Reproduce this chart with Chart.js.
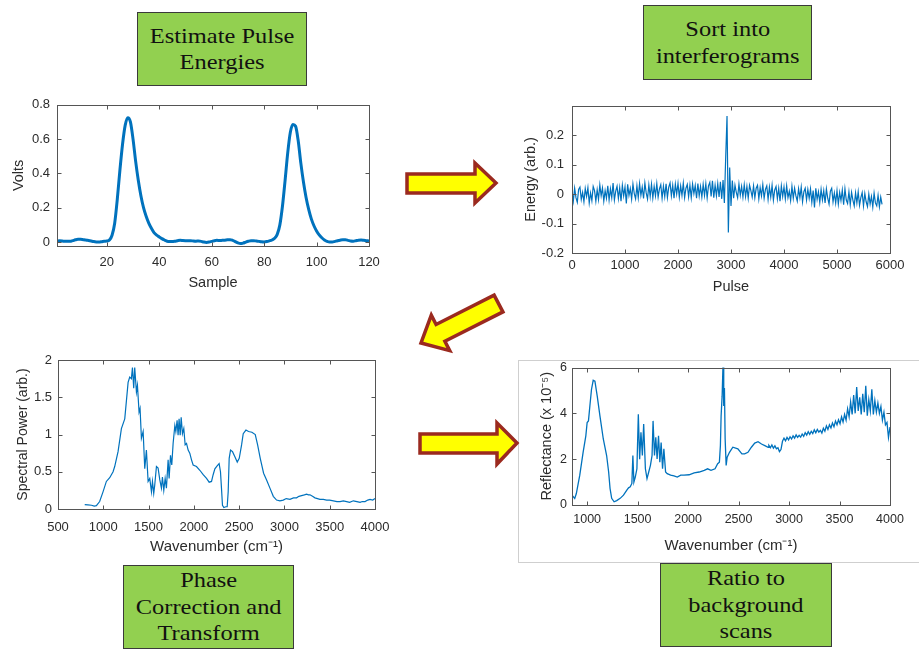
<!DOCTYPE html>
<html>
<head>
<meta charset="utf-8">
<script src="https://cdn.jsdelivr.net/npm/chart.js@4.4.1/dist/chart.umd.min.js"></script>
<style>
  html, body { margin: 0; padding: 0; background: #fff; }
  #page { position: relative; width: 919px; height: 649px; overflow: hidden; }
  canvas { position: absolute; }
  #inset { position: absolute; left: 518px; top: 360px; width: 402px; height: 203px; box-sizing: border-box; border: 1px solid #cfcfcf; }
  .step { position: absolute; box-sizing: border-box; background: #92d050; border: 1.5px solid #3a3a3a;
          display: flex; align-items: center; justify-content: center; }
  .step span { font-family: "Liberation Serif", serif; font-size: 22px; line-height: 26.5px; color: #111;
               text-align: center; white-space: nowrap; transform: scaleX(1.11); }
  #arrows { position: absolute; left: 0; top: 0; }
</style>
</head>
<body>
<div id="page">
  <div id="inset"></div>

  <canvas id="pulseChart" width="390" height="210" style="left:0;top:90px"></canvas>
  <canvas id="interferogramChart" width="409" height="210" style="left:510px;top:90px"></canvas>
  <canvas id="spectrumChart" width="410" height="215" style="left:0;top:345px"></canvas>
  <canvas id="reflectanceChart" width="409" height="210" style="left:510px;top:355px"></canvas>

  <div class="step" style="left:137px;top:12px;width:170px;height:74px"><span>Estimate Pulse<br>Energies</span></div>
  <div class="step" style="left:643px;top:5px;width:169px;height:75px"><span>Sort into<br>interferograms</span></div>
  <div class="step" style="left:123px;top:565px;width:171px;height:84px"><span>Phase<br>Correction and<br>Transform</span></div>
  <div class="step" style="left:660px;top:563px;width:172px;height:84px"><span>Ratio to<br>background<br>scans</span></div>

  <svg id="arrows" width="919" height="649">
    <g fill="#ffff00" stroke="#9b2a1f" stroke-width="3.5" stroke-linejoin="miter">
      <polygon points="407,174 475,174 475,163 496,183 475,203 475,193 407,193"/>
      <polygon points="502.9,311.9 494.1,295.1 436.1,324.5 431.3,315.2 421,343 449.7,350.6 444.9,341.3"/>
      <polygon points="420,434 497,434 497,423 517,443 497,464 497,453 420,453"/>
    </g>
  </svg>
</div>

<script>
// ---- data ----

// Panel 1: detector voltage per sample (samples 1..120)
const pulseVolts = [
  0.005, 0.007, 0.006, 0.004, 0.005, 0.004, 0.008, 0.013, 0.016, 0.016,
  0.014, 0.012, 0.009, 0.006, 0.003, 0.001, 0.000, 0.002, 0.005, 0.006,
  0.012, 0.040, 0.110, 0.250, 0.420, 0.570, 0.680, 0.725, 0.700, 0.600,
  0.470, 0.360, 0.270, 0.200, 0.150, 0.110, 0.080, 0.055, 0.040, 0.030,
  0.020, 0.012, 0.005, 0.003, 0.003, 0.005, 0.008, 0.010, 0.009, 0.008,
  0.007, 0.008, 0.006, 0.005, 0.006, 0.004, 0.000, -0.002, 0.000, 0.004,
  0.008, 0.010, 0.009, 0.010, 0.011, 0.013, 0.014, 0.010, 0.003, -0.005,
  -0.009, -0.006, 0.000, 0.005, 0.008, 0.008, 0.006, 0.004, 0.002, 0.001,
  0.003, 0.007, 0.012, 0.022, 0.045, 0.100, 0.210, 0.360, 0.520, 0.640,
  0.685, 0.675, 0.590, 0.460, 0.350, 0.260, 0.190, 0.135, 0.095, 0.065,
  0.042, 0.025, 0.012, 0.004, 0.000, 0.000, 0.004, 0.008, 0.011, 0.013,
  0.013, 0.010, 0.006, 0.005, 0.008, 0.011, 0.012, 0.010, 0.008, 0.006
];

// Panel 2: interferogram energy, one value every 25 pulses from pulse 0
const pulseSpacing = 25;
const energyValues = [
  0.01, -0.024, 0.02, -0.012, -0.028, 0.016, 0.024, -0.018, 0.006, -0.026,
  0.019, -0.008, 0.022, -0.03, 0.004, -0.022, 0.026, 0.012, -0.024, 0.015,
  -0.018, 0.031, -0.006, 0.021, -0.024, 0.012, -0.014, 0.028, -0.02, 0.018,
  -0.012, 0.038, -0.02, 0.01, 0.027, -0.015, 0.022, -0.024, 0.03, -0.006,
  0.024, -0.032, 0.033, -0.004, 0.019, -0.017, 0.034, 0.002, -0.016, 0.028,
  -0.012, 0.036, -0.004, 0.024, -0.015, 0.038, 0.004, -0.017, 0.031, -0.008,
  0.034, -0.013, 0.026, -0.006, 0.036, -0.01, 0.018, 0.032, -0.014, 0.027,
  -0.008, 0.035, -0.012, 0.024, 0.038, -0.006, 0.03, -0.014, 0.034, 0.0,
  0.036, -0.01, 0.028, -0.004, 0.037, -0.012, 0.02, 0.033, -0.009, 0.03,
  -0.012, 0.034, 0.002, 0.029, -0.014, 0.036, -0.006, 0.026, -0.01, 0.033,
  -0.004, 0.035, -0.013, 0.028, 0.04, -0.008, 0.045, -0.012, 0.03, -0.006,
  0.036, -0.01, 0.042, -0.016, 0.048, -0.03, 0.125, 0.265, -0.13, 0.09,
  -0.04, 0.046, -0.014, 0.03, 0.006, -0.012, 0.034, -0.004, 0.026, -0.01,
  0.032, -0.008, 0.026, -0.014, 0.03, 0.012, -0.01, 0.028, -0.012, 0.02,
  0.03, -0.016, 0.022, -0.006, 0.032, -0.014, 0.016, 0.028, -0.018, 0.024,
  -0.01, 0.03, -0.02, 0.014, 0.026, -0.016, 0.02, -0.024, 0.028, -0.008,
  0.024, -0.016, 0.028, -0.012, 0.01, -0.022, 0.026, -0.014, 0.02, -0.006,
  -0.024, 0.018, -0.012, 0.024, -0.026, 0.008, 0.02, -0.02, 0.016, -0.014,
  0.018, -0.028, 0.012, -0.045, 0.02, -0.018, 0.008, -0.028, 0.016, -0.02,
  0.012, -0.03, 0.018, -0.014, -0.034, 0.01, 0.02, -0.026, 0.004, -0.03,
  0.012, -0.034, 0.006, -0.022, 0.014, -0.036, 0.018, -0.02, -0.032, 0.008,
  -0.036, 0.006, -0.02, -0.04, 0.004, -0.03, 0.008, -0.038, -0.012, 0.005,
  -0.04, 0.002, -0.026, -0.042, 0.0, -0.034, -0.008, -0.044, 0.003, -0.03,
  -0.04, -0.004, -0.043, -0.01, -0.035
];

// Panel 3: transformed spectrum
const spectrumWavenumber = [
  795, 830, 870, 900, 924, 960, 997, 1034, 1071, 1108,
  1126, 1163, 1200, 1237, 1274, 1292, 1310, 1322, 1336, 1347,
  1366, 1377, 1395, 1406, 1421, 1440, 1458, 1476, 1495, 1513,
  1532, 1543, 1557, 1568, 1587, 1605, 1624, 1642, 1653, 1668,
  1683, 1697, 1716, 1727, 1742, 1756, 1771, 1790, 1801, 1815,
  1826, 1837, 1849, 1860, 1874, 1889, 1904, 1919, 1937, 1955,
  1974, 1992, 2029, 2066, 2103, 2140, 2169, 2195, 2213, 2232,
  2257, 2279, 2294, 2305, 2316, 2331, 2353, 2368, 2379, 2390,
  2405, 2427, 2453, 2479, 2501, 2527, 2545, 2575, 2604, 2641,
  2678, 2704, 2733, 2770, 2803, 2840, 2877, 2913, 2950, 2987,
  3020, 3061, 3100, 3134, 3160, 3190, 3220, 3245, 3265, 3282,
  3310, 3337, 3365, 3392, 3430, 3466, 3500, 3540, 3580, 3614,
  3650, 3687, 3720, 3761, 3800, 3835, 3860, 3890, 3920, 3945,
  3975, 4000
];
const spectrumPower = [
  0.06, 0.055, 0.05, 0.04, 0.045, 0.1, 0.23, 0.37, 0.42, 0.5,
  0.57, 0.77, 1.08, 1.21, 1.7, 1.77, 1.75, 1.9, 1.62, 1.9,
  1.57, 1.66, 1.3, 1.35, 0.95, 1.04, 0.54, 0.79, 0.37, 0.41,
  0.23, 0.37, 0.21, 0.32, 0.57, 0.55, 0.39, 0.28, 0.43, 0.25,
  0.41, 0.28, 0.66, 0.41, 0.72, 0.59, 0.88, 1.12, 1.04, 1.19,
  0.99, 1.21, 0.99, 1.23, 1.01, 1.08, 0.86, 0.88, 0.79, 0.75,
  0.66, 0.59, 0.57, 0.52, 0.46, 0.41, 0.36, 0.37, 0.46, 0.54,
  0.58, 0.61, 0.5, 0.28, 0.05, 0.02, 0.03, 0.03, 0.23, 0.68,
  0.79, 0.77, 0.7, 0.63, 0.68, 0.86, 1.01, 1.06, 1.04, 1.03,
  1.0, 0.86, 0.68, 0.48, 0.39, 0.28, 0.17, 0.12, 0.11, 0.12,
  0.14, 0.13, 0.15, 0.15, 0.17, 0.18, 0.19, 0.2, 0.19, 0.19,
  0.17, 0.15, 0.14, 0.13, 0.13, 0.12, 0.12, 0.11, 0.1, 0.1,
  0.11, 0.1, 0.09, 0.11, 0.1, 0.09, 0.1, 0.1, 0.12, 0.13,
  0.12, 0.14
];

// Panel 4: reflectance ratio (units of 1e-5)
const reflectWavenumber = [
  850, 877, 893, 927, 960, 987, 1000, 1013, 1027, 1043,
  1060, 1077, 1100, 1127, 1160, 1193, 1213, 1227, 1243, 1267,
  1293, 1327, 1360, 1393, 1410, 1427, 1443, 1453, 1463, 1477,
  1493, 1507, 1520, 1533, 1547, 1560, 1577, 1593, 1610, 1627,
  1643, 1653, 1667, 1680, 1693, 1707, 1720, 1733, 1747, 1760,
  1777, 1793, 1827, 1860, 1893, 1927, 1960, 2010, 2060, 2110,
  2160, 2193, 2227, 2267, 2293, 2310, 2320, 2327, 2337, 2347,
  2353, 2360, 2367, 2377, 2387, 2410, 2443, 2493, 2533, 2560,
  2593, 2627, 2660, 2693, 2727, 2760, 2793,
  2800, 2815, 2830, 2845, 2860, 2875, 2890, 2905, 2920, 2935,
  2950, 2965, 2980, 2995, 3010, 3025, 3040, 3055, 3070, 3085,
  3100, 3115, 3130, 3145, 3160, 3175, 3190, 3205, 3220, 3235,
  3250, 3265, 3280, 3295, 3310, 3325, 3340, 3355, 3370, 3385,
  3400, 3415, 3430, 3445, 3460, 3475, 3490, 3505, 3520, 3535,
  3550, 3565, 3580, 3595, 3610, 3625, 3640, 3655, 3670, 3685,
  3700, 3715, 3730, 3745, 3760, 3775, 3790, 3805, 3820, 3835,
  3850, 3865, 3880, 3895, 3910, 3925, 3940, 3955, 3970, 3985,
  4000
];
const reflectValue = [
  0.43, 0.29, 0.5, 1.3, 2.3, 3.02, 3.6, 3.67, 4.32, 5.04,
  5.44, 5.4, 4.75, 3.88, 2.88, 2.16, 1.44, 0.72, 0.29, 0.14,
  0.19, 0.29, 0.43, 0.65, 0.75, 0.79, 0.94, 2.16, 1.0, 1.22,
  1.58, 3.96, 2.0, 3.17, 2.16, 3.53, 1.58, 1.15, 1.44, 1.73,
  2.16, 3.67, 2.16, 2.95, 2.01, 3.02, 1.87, 2.73, 1.58, 2.45,
  1.44, 1.37, 1.3, 1.27, 1.22, 1.3, 1.3, 1.32, 1.4, 1.44,
  1.51, 1.58, 1.51, 1.58, 1.8, 1.87, 2.59, 3.88, 4.75, 6.3,
  4.32, 5.1, 2.88, 1.73, 2.09, 2.3, 2.52, 2.45, 2.23, 2.23,
  2.3, 2.52, 2.7, 2.76, 2.66, 2.59, 2.52,
  2.6, 2.5, 2.62, 2.48, 2.58, 2.45, 2.5, 2.33, 2.42, 2.78,
  2.92, 2.8, 2.95, 2.84, 2.98, 2.88, 3.02, 2.92, 3.06, 2.95,
  3.04, 2.96, 3.1, 3.0, 3.16, 3.05, 3.2, 3.08, 3.22, 3.12,
  3.28, 3.15, 3.3, 3.18, 3.26, 3.14, 3.35, 3.22, 3.45, 3.3,
  3.5, 3.36, 3.58, 3.42, 3.66, 3.5, 3.72, 3.55, 3.85, 3.62,
  3.95, 3.7, 4.2, 3.85, 4.5, 3.95, 4.8, 4.0, 5.15, 4.1,
  4.7, 3.95, 4.85, 4.05, 5.2, 3.9, 4.6, 4.1, 5.05, 3.95,
  4.55, 4.05, 4.45, 4.0, 4.3, 3.7, 4.05, 3.5, 3.6, 2.95,
  3.4
];

// tick values
const sampleTicks = [20, 40, 60, 80, 100, 120];
const voltTicks = [0, 0.2, 0.4, 0.6, 0.8];
const pulseTicks = [0, 1000, 2000, 3000, 4000, 5000, 6000];
const energyTicks = [-0.2, -0.1, 0, 0.1, 0.2];
const spectrumXTicks = [500, 1000, 1500, 2000, 2500, 3000, 3500, 4000];
const spectrumYTicks = [0, 0.5, 1, 1.5, 2];
const reflectXTicks = [1000, 1500, 2000, 2500, 3000, 3500, 4000];
const reflectYTicks = [0, 2, 4, 6];

// ---- drawing ----
const LINE_BLUE = '#0072bd';
const TEXT = '#2b2b2b';
const AXIS = '#555';
const SANS = '"Liberation Sans", Arial, sans-serif';

// MATLAB-style box with inward ticks on all four sides
const matlabBox = {
  id: 'matlabBox',
  afterDatasetsDraw(chart) {
    const { ctx, chartArea: a, scales: { x, y } } = chart;
    const len = 4;
    const l = Math.round(a.left) + 0.5, r = Math.round(a.right) + 0.5;
    const t = Math.round(a.top) + 0.5, b = Math.round(a.bottom) + 0.5;
    ctx.save();
    ctx.strokeStyle = AXIS;
    ctx.lineWidth = 1;
    ctx.beginPath();
    x.ticks.forEach(tk => {
      const px = Math.round(x.getPixelForValue(tk.value)) + 0.5;
      ctx.moveTo(px, b); ctx.lineTo(px, b - len);
      ctx.moveTo(px, t); ctx.lineTo(px, t + len);
    });
    y.ticks.forEach(tk => {
      const py = Math.round(y.getPixelForValue(tk.value)) + 0.5;
      ctx.moveTo(l, py); ctx.lineTo(l + len, py);
      ctx.moveTo(r, py); ctx.lineTo(r - len, py);
    });
    ctx.stroke();
    ctx.strokeRect(l, t, r - l, b - t);
    ctx.restore();
  }
};

function axisOptions(isX, ax, size) {
  return {
    type: 'linear',
    min: ax.min,
    max: ax.max,
    afterBuildTicks: s => { s.ticks = ax.ticks.map(v => ({ value: v })); },
    afterFit: s => { if (isX) s.height = size; else s.width = size; },
    grid: { display: false, drawTicks: false },
    border: { display: false },
    ticks: {
      padding: ax.tickPad,
      font: { family: SANS, size: ax.tickSize },
      color: TEXT,
      maxRotation: 0,
      autoSkip: false,
      callback: v => String(v)
    },
    title: {
      display: true,
      text: ax.title,
      color: TEXT,
      font: { family: SANS, size: ax.titleSize },
      padding: ax.titlePad
    }
  };
}

/**
 * Build one panel; area is the plot box in canvas pixels
 */
function makePanel(canvasId, cfg) {
  const canvas = document.getElementById(canvasId);
  const W = canvas.width, H = canvas.height;
  const a = cfg.area;
  return new Chart(canvas, {
    type: 'line',
    data: {
      datasets: [{
        data: cfg.points,
        borderColor: LINE_BLUE,
        borderWidth: cfg.lineWidth,
        pointRadius: 0,
        fill: false,
        cubicInterpolationMode: cfg.smooth ? 'monotone' : 'default'
      }]
    },
    options: {
      responsive: false,
      animation: false,
      events: [],
      parsing: false,
      layout: { padding: { left: 0, top: a.top, right: W - a.right, bottom: 0 } },
      plugins: { legend: { display: false }, tooltip: { enabled: false } },
      scales: {
        x: axisOptions(true, cfg.x, H - a.bottom),
        y: axisOptions(false, cfg.y, a.left)
      }
    },
    plugins: [matlabBox]
  });
}

makePanel('pulseChart', {
  area: { left: 57, top: 13, right: 369, bottom: 156 },
  points: pulseVolts.map((v, i) => ({ x: i + 1, y: v })),
  lineWidth: 3,
  smooth: true,
  x: { min: 1, max: 120, ticks: sampleTicks, tickPad: 9, tickSize: 13, title: 'Sample', titleSize: 14.5, titlePad: 8.3 },
  y: { min: -0.023, max: 0.8, ticks: voltTicks, tickPad: 7, tickSize: 13, title: 'Volts', titleSize: 14.5, titlePad: 10.3 }
});

makePanel('interferogramChart', {
  area: { left: 62, top: 9, right: 380, bottom: 163 },
  points: energyValues.map((v, i) => ({ x: i * pulseSpacing, y: v })),
  lineWidth: 1.2,
  x: { min: 0, max: 6000, ticks: pulseTicks, tickPad: 5, tickSize: 13, title: 'Pulse', titleSize: 14.5, titlePad: 4.3 },
  y: { min: -0.2, max: 0.3, ticks: energyTicks, tickPad: 8, tickSize: 13, title: 'Energy (arb.)', titleSize: 14.5, titlePad: 12.3 }
});

makePanel('spectrumChart', {
  area: { left: 58, top: 15, right: 375, bottom: 164 },
  points: spectrumWavenumber.map((w, i) => ({ x: w, y: spectrumPower[i] })),
  lineWidth: 1.2,
  x: { min: 500, max: 4000, ticks: spectrumXTicks, tickPad: 10.5, tickSize: 13, title: 'Wavenumber (cm\u207B\u00B9)', titleSize: 15, titlePad: 4.5 },
  y: { min: 0, max: 2, ticks: spectrumYTicks, tickPad: 6, tickSize: 13, title: 'Spectral Power (arb.)', titleSize: 14, titlePad: 14.6 }
});

makePanel('reflectanceChart', {
  area: { left: 62, top: 11, right: 380, bottom: 150 },
  points: reflectWavenumber.map((w, i) => ({ x: w, y: reflectValue[i] })),
  lineWidth: 1.3,
  x: { min: 850, max: 4000, ticks: reflectXTicks, tickPad: 7.5, tickSize: 12.5, title: 'Wavenumber (cm\u207B\u00B9)', titleSize: 15, titlePad: 10.5 },
  y: { min: 0, max: 6, ticks: reflectYTicks, tickPad: 5, tickSize: 12.5, title: 'Reflectance (x 10\u207B\u2075)', titleSize: 14.5, titlePad: 28.3 }
});
</script>
</body>
</html>
